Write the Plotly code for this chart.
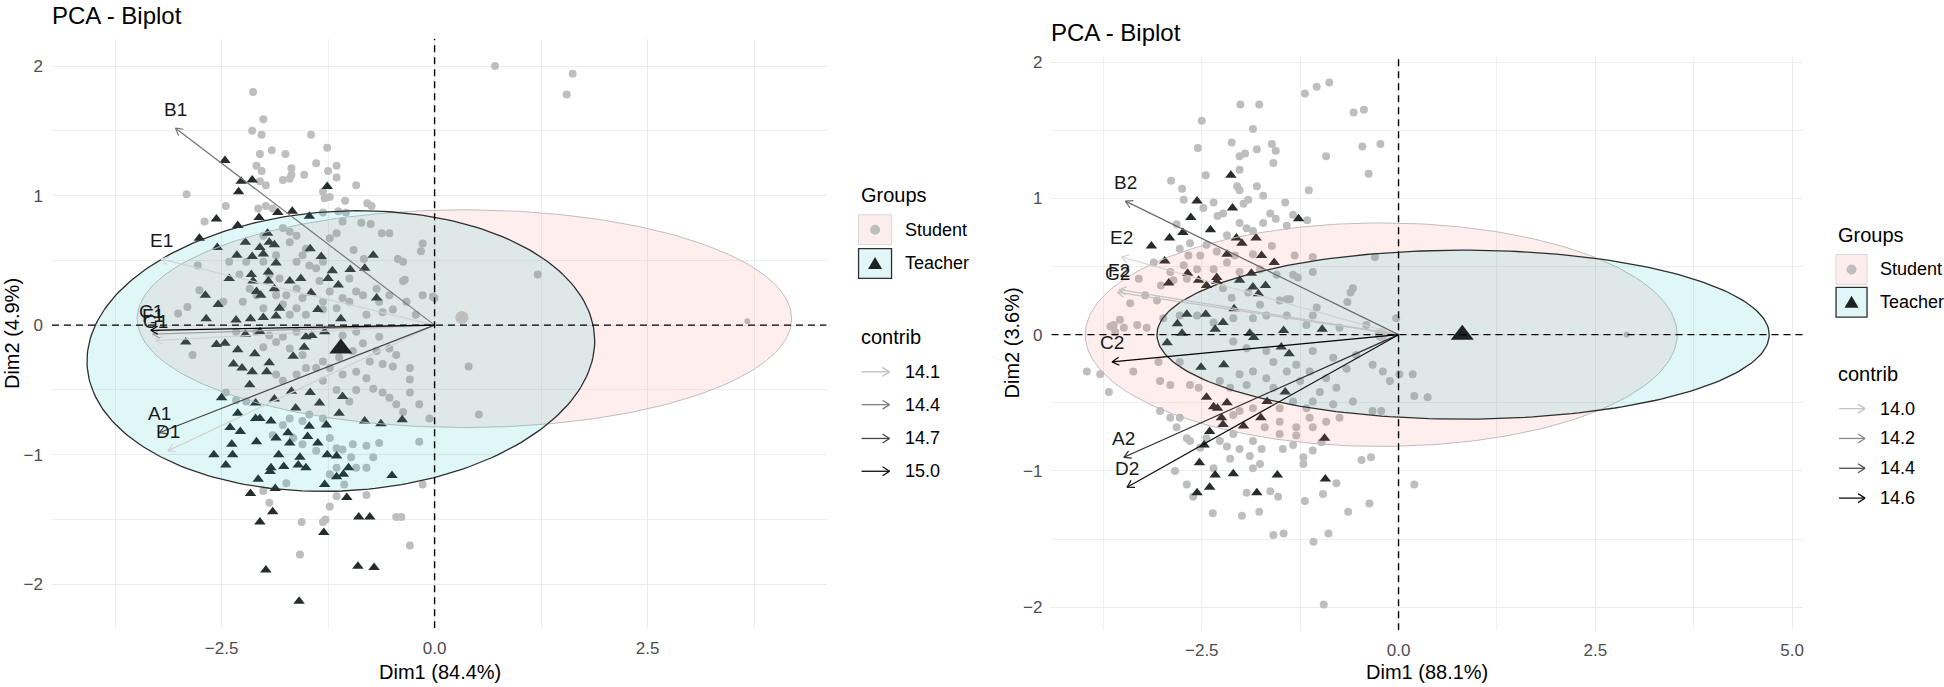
import numpy as np
import plotly.graph_objects as go

W, H = 1944, 687
FONT = "Liberation Sans, Arial, sans-serif"

# ---------------- LEFT BIPLOT DATA (Dim1 84.4 %, Dim2 4.9 %) ----------------
L_student = [
    (-2.13, 1.80), (-2.01, 1.59), (-2.14, 1.50), (-2.03, 1.47), (-1.45, 1.47), (-1.26, 1.37), (-1.91, 1.35),
    (-1.75, 1.32), (-2.05, 1.32), (-1.39, 1.25), (-1.15, 1.23), (-1.68, 1.21), (-1.25, 1.19), (-2.09, 1.23),
    (-2.03, 1.19), (-1.53, 1.16), (-1.68, 1.16), (-1.15, 1.14), (-1.78, 1.12), (-1.70, 1.13), (-1.98, 1.08),
    (-0.92, 1.08), (-2.05, 1.11), (-2.91, 1.01), (-1.31, 1.03), (-1.23, 0.99), (-1.29, 0.98), (-1.05, 0.96),
    (-0.79, 0.94), (-0.74, 0.92), (-2.45, 0.92), (-1.98, 0.92), (-2.07, 0.90), (-1.90, 0.90), (-1.31, 0.87),
    (-1.13, 0.88), (-1.04, 0.87), (-0.86, 0.79), (-0.75, 0.78), (-0.62, 0.71), (-0.53, 0.71), (-0.14, 0.63),
    (-0.16, 0.57), (-0.43, 0.51), (-0.37, 0.49), (-2.70, 0.80), (-1.08, 0.80), (-1.15, 0.71), (-1.23, 0.67),
    (-0.95, 0.58), (-0.83, 0.51), (-0.37, 0.34), (0.00, 0.21), (-0.65, 0.18), (-0.49, 0.12), (-2.78, 0.46),
    (-2.76, 0.27), (-2.90, 0.14), (-3.01, 0.09), (-2.48, 0.18), (-2.01, 0.69), (-1.70, 0.72), (-1.51, 0.59),
    (-1.62, 0.49), (-1.31, 0.49), (-1.94, 0.39), (-1.62, 0.28), (-1.55, 0.21), (-1.00, 0.36), (-0.92, 0.26),
    (-1.08, 0.21), (-0.80, 0.08), (-0.61, 0.10), (-1.51, 0.08), (-1.31, 0.12), (-1.74, 0.23), (-1.82, 0.36),
    (-2.29, 0.39), (-2.41, 0.49), (-2.17, 0.28), (-2.09, 0.23), (-2.25, 0.18), (-1.86, 0.54), (-1.70, 0.64),
    (-1.35, 0.34), (-1.78, 0.75), (-1.62, 0.69), (-1.55, 0.54), (-1.39, 0.44), (-1.23, 0.26), (-1.15, 0.13),
    (-1.00, 0.18), (-0.84, 0.23), (-0.68, 0.28), (-1.78, 0.16), (-1.70, 0.08), (-2.01, 0.13), (-1.62, 0.13),
    (-1.31, 0.18), (-1.47, 0.46), (-1.86, 0.23), (-2.21, 0.49), (-2.01, 0.49), (-0.53, 0.23), (-0.33, 0.18),
    (-0.22, 0.08), (-0.14, 0.23), (-0.35, 0.35), (-0.02, 0.22),
    (0.71, 2.00), (1.62, 1.94), (1.55, 1.78), (1.21, 0.39), (0.40, -0.32), (0.52, -0.69),
    (-2.84, -0.23), (-2.33, -0.58), (-2.21, -0.59), (-2.45, -0.52), (-2.01, -0.17), (-1.86, -0.13),
    (-1.70, -0.18), (-1.55, -0.23), (-1.31, -0.28), (-1.23, -0.33), (-1.08, -0.38), (-0.92, -0.36),
    (-0.76, -0.28), (-0.61, -0.30), (-0.49, -0.32), (-0.29, -0.33), (-0.68, -0.20), (-0.53, -0.18),
    (-0.45, -0.23), (-0.29, -0.42), (-0.80, -0.41), (-0.72, -0.49), (-0.61, -0.52), (-0.53, -0.56),
    (-0.45, -0.61), (-0.37, -0.67), (-0.18, -0.61), (-0.06, -0.72), (-0.18, -0.90), (-0.29, -0.52),
    (-1.31, -0.43), (-1.15, -0.50), (-0.92, -0.50), (-1.00, -0.59), (-1.31, -0.72), (-1.47, -0.69),
    (-1.55, -0.74), (-1.70, -0.72), (-1.78, -0.77), (-1.90, -0.85), (-1.66, -0.87), (-1.55, -0.92),
    (-1.39, -0.97), (-1.23, -0.87), (-1.15, -0.95), (-1.08, -0.96), (-0.96, -0.92), (-0.80, -0.93),
    (-0.65, -0.91), (-0.72, -1.02), (-0.80, -1.10), (-0.92, -1.10), (-0.98, -1.02), (-1.15, -1.10),
    (-1.23, -1.15), (-1.06, -1.23), (-1.74, -1.22), (-2.01, -1.28), (-1.94, -1.37), (-1.15, -1.32),
    (-1.23, -1.40), (-1.28, -1.50), (-1.31, -1.52), (-1.56, -1.52), (-0.80, -1.31), (-0.45, -1.48),
    (-0.39, -1.48), (-0.29, -1.70), (-1.58, -1.77), (-0.14, -1.23), (-1.78, -0.43), (-1.86, -0.38),
    (-1.62, -0.38), (-1.51, -0.33), (-1.39, -0.33), (-1.12, -0.25), (-0.96, -0.20), (-0.84, -0.14),
    (-0.65, -0.09), (-1.62, -0.05), (-1.78, -0.09), (-1.94, -0.08), (-2.09, -0.05), (-2.33, -0.05),
    (-1.08, -0.08), (-0.92, -0.05),
]
L_student_far = [(3.67, 0.03)]
L_teacher = [
    (-2.46, 1.27), (-2.27, 1.11), (-2.14, 1.12), (-2.30, 1.03), (-1.26, 1.07), (-1.84, 0.87), (-1.67, 0.88),
    (-2.06, 0.83), (-1.47, 0.84), (-2.56, 0.82), (-2.31, 0.77), (-2.76, 0.67), (-2.55, 0.60), (-2.22, 0.64),
    (-1.96, 0.71), (-1.94, 0.64), (-2.05, 0.60), (-1.88, 0.62), (-1.46, 0.59), (-1.33, 0.53), (-0.72, 0.54),
    (-0.82, 0.44), (-0.99, 0.43), (-1.20, 0.42), (-1.25, 0.36), (-1.13, 0.31), (-1.57, 0.36), (-1.70, 0.34),
    (-1.86, 0.48), (-1.95, 0.41), (-2.15, 0.39), (-2.13, 0.34), (-1.95, 0.34), (-1.88, 0.28), (-2.09, 0.26),
    (-2.04, 0.23), (-1.45, 0.25), (-0.68, 0.21), (-2.69, 0.23), (-2.54, 0.16), (-1.82, 0.13), (-1.37, 0.12),
    (-2.68, 0.05), (-2.33, 0.04), (-2.16, 0.05), (-2.01, 0.06), (-1.86, 0.07), (-1.10, 0.05), (-2.14, 0.53),
    (-2.32, 0.54), (-2.01, 0.55), (-2.41, 0.36),
    (-2.92, -0.13), (-2.46, -0.14), (-2.56, -0.15), (-2.22, -0.07), (-2.05, -0.05), (-1.51, -0.09),
    (-1.44, -0.08), (-1.29, -0.05), (-1.53, -0.17), (-2.31, -0.19), (-2.11, -0.22), (-1.94, -0.29),
    (-1.66, -0.24), (-2.36, -0.30), (-2.26, -0.33), (-2.14, -0.36), (-1.97, -0.36), (-2.17, -0.46),
    (-2.50, -0.56), (-2.10, -0.60), (-1.88, -0.57), (-1.68, -0.51), (-1.46, -0.52), (-1.35, -0.60),
    (-1.08, -0.55), (-2.31, -0.68), (-2.10, -0.72), (-2.05, -0.72), (-1.92, -0.74), (-1.63, -0.64),
    (-1.12, -0.68), (-0.82, -0.74), (-0.63, -0.76), (-0.38, -0.73), (-2.40, -0.79), (-2.28, -0.82),
    (-2.09, -0.90), (-1.72, -0.83), (-1.47, -0.78), (-1.27, -0.77), (-2.38, -0.92), (-2.59, -1.00),
    (-2.37, -1.00), (-1.83, -1.00), (-1.58, -1.02), (-1.37, -0.91), (-1.70, -0.91), (-1.15, -1.01),
    (-1.26, -1.00), (-2.45, -1.08), (-1.92, -1.10), (-1.77, -1.09), (-1.60, -1.08), (-1.51, -1.10),
    (-1.93, -1.13), (-1.15, -1.17), (-1.07, -1.15), (-1.01, -1.10), (-0.50, -1.16), (-2.07, -1.19),
    (-1.87, -1.26), (-1.29, -1.23), (-2.16, -1.30), (-1.03, -1.33), (-1.90, -1.44), (-2.05, -1.52),
    (-0.89, -1.48), (-0.76, -1.48), (-1.30, -1.60), (-1.98, -1.89), (-0.90, -1.86), (-0.71, -1.87),
    (-1.59, -2.13), (-1.49, -0.86), (-1.86, -0.87),
]
L_student_mean = (0.32, 0.06)
L_teacher_mean = (-1.10, -0.18)

L_vars = ["A1", "B1", "C1", "D1", "E1", "F1", "G1"]
L_var_x = [-3.23, -3.04, -3.33, -3.13, -3.21, -3.31, -3.27]
L_var_y = [-0.83, 1.52, -0.04, -0.97, 0.51, -0.07, -0.12]
L_contrib = [14.70, 14.45, 15.05, 14.00, 13.95, 14.25, 13.60]
L_contrib_lim = (14.0, 15.05)
L_breaks = [14.1, 14.4, 14.7, 15.0]

# ellipses: (centre x, centre y, semi-axis x, semi-axis y, tilt rad)
L_ell_student = (0.35, 0.05, 3.84, 0.84, 0.0)
L_ell_teacher = (-1.10, -0.20, 2.98, 1.08, 0.03)

# ---------------- RIGHT BIPLOT DATA (Dim1 88.1 %, Dim2 3.6 %) ----------------
R_student = [
    (-0.88, 1.85), (-1.04, 1.82), (-1.19, 1.77), (-2.01, 1.69), (-1.77, 1.69), (-2.50, 1.57), (-1.85, 1.51),
    (-0.57, 1.63), (-0.44, 1.65), (-2.12, 1.41), (-1.61, 1.40), (-1.56, 1.35), (-1.80, 1.36), (-2.55, 1.37),
    (-1.95, 1.33), (-2.02, 1.31), (-0.46, 1.38), (-0.23, 1.40), (-0.92, 1.31), (-1.59, 1.26), (-2.02, 1.21),
    (-0.38, 1.18), (-2.45, 1.17), (-2.89, 1.13), (-2.05, 1.09), (-1.80, 1.09), (-1.14, 1.06), (-2.75, 1.07),
    (-2.02, 1.06), (-1.72, 1.02), (-2.73, 0.99), (-2.35, 0.97), (-1.91, 0.99), (-1.97, 0.96), (-1.44, 0.97),
    (-2.48, 0.93), (-2.30, 0.87), (-2.23, 0.89), (-1.63, 0.89), (-1.56, 0.85), (-1.34, 0.88), (-1.16, 0.84),
    (-1.42, 0.80), (-2.82, 0.81), (-2.02, 0.82), (-1.93, 0.78), (-1.72, 0.82), (-1.85, 0.76), (-2.18, 0.73),
    (-2.65, 0.67), (-2.44, 0.66), (-2.31, 0.61), (-2.08, 0.58), (-1.85, 0.59), (-1.61, 0.65), (-1.32, 0.58),
    (-1.09, 0.57), (-0.30, 0.57), (-2.78, 0.63), (-2.67, 0.58), (-2.52, 0.58), (-3.11, 0.53), (-2.90, 0.46),
    (-2.73, 0.51), (-2.56, 0.48), (-2.86, 0.40), (-3.02, 0.36), (-3.30, 0.41), (-3.22, 0.29), (-3.07, 0.25),
    (-3.41, 0.23), (-2.69, 0.41), (-2.35, 0.48), (-2.18, 0.53), (-2.02, 0.46), (-1.76, 0.48), (-1.55, 0.44),
    (-1.34, 0.44), (-1.28, 0.42), (-1.09, 0.46), (-0.58, 0.34), (-0.61, 0.31), (-0.65, 0.24), (-1.04, 0.20),
    (-1.51, 0.25), (-1.42, 0.26), (-1.38, 0.26), (-1.76, 0.22), (-1.91, 0.31), (-2.12, 0.27), (-2.23, 0.34),
    (-1.68, 0.14), (-1.85, 0.12), (-2.10, 0.12), (-2.35, 0.09), (-2.56, 0.14), (-2.78, 0.14), (-2.99, 0.12),
    (-3.66, 0.06), (-3.54, 0.11), (-3.60, 0.02), (-3.20, 0.05), (-0.03, 0.12), (-0.41, 0.07), (-0.75, 0.05),
    (-1.17, 0.07), (-1.42, 0.14), (-1.09, 0.14),
    (-3.62, 0.07), (-3.49, 0.05), (-3.32, 0.07), (-3.96, -0.27), (-3.79, -0.29), (-3.68, -0.42), (-3.37, -0.27),
    (-3.03, -0.34), (-2.90, -0.37), (-3.05, -0.20), (-2.78, -0.20), (-2.65, -0.37), (-2.54, -0.39),
    (-3.03, -0.56), (-2.90, -0.61), (-2.78, -0.61), (-2.82, -0.68), (-2.69, -0.76), (-2.65, -0.78),
    (-2.52, -0.83), (-2.18, -0.82), (-2.02, -0.84), (-1.89, -0.89), (-1.74, -0.84), (-1.47, -0.84),
    (-1.34, -0.81), (-1.21, -0.90), (-1.21, -0.95), (-0.98, -0.79), (-2.14, -0.91), (-2.35, -0.98),
    (-1.85, -0.98), (-1.76, -0.95), (-2.84, -1.00), (-2.69, -1.10), (-2.61, -1.19), (-1.93, -1.16),
    (-1.63, -1.15), (-1.53, -1.19), (-1.19, -1.22), (-0.96, -1.17), (-0.79, -1.09), (-0.64, -1.30),
    (-0.37, -1.24), (-0.47, -0.92), (-0.35, -0.90), (0.20, -1.10), (-2.36, -1.31), (-1.99, -1.33),
    (-1.77, -1.30), (-1.59, -1.47), (-1.46, -1.46), (-1.08, -1.52), (-0.89, -1.46), (-0.95, -1.98),
    (-2.10, -0.59), (-2.02, -0.56), (-1.85, -0.54), (-1.70, -0.68), (-1.51, -0.64), (-1.30, -0.74),
    (-1.13, -0.61), (-1.09, -0.49), (-1.00, -0.42), (-1.25, -0.34), (-1.42, -0.27), (-1.59, -0.20),
    (-1.68, -0.12), (-1.93, -0.10), (-2.10, -0.05), (-1.09, -0.12), (-0.83, -0.17), (-0.66, -0.25),
    (-0.54, -0.15), (-0.33, -0.22), (-0.20, -0.27), (0.01, -0.29), (0.18, -0.29), (0.20, -0.45),
    (0.37, -0.46), (-0.33, -0.56), (-0.22, -0.56), (-0.11, -0.34), (-0.79, -0.39), (-0.92, -0.32),
    (-1.13, -0.27), (-1.30, -0.22), (-1.68, -0.32), (-1.85, -0.27), (-2.02, -0.29), (-2.27, -0.34),
    (-2.14, -0.39), (-1.93, -0.37), (-1.59, -0.39), (-1.51, -0.54), (-1.34, -0.49), (-1.17, -0.54),
    (-0.83, -0.51), (-0.58, -0.49), (-0.75, -0.61), (-0.92, -0.64), (-1.09, -0.68), (-1.30, -0.68),
    (-1.51, -0.73), (-2.10, -0.73), (-2.27, -0.78), (-2.44, -0.76), (-1.85, -0.78), (-1.09, -0.85),
]
R_student_far = [(2.90, 0.00)]
R_teacher = [
    (-2.13, 1.17), (-2.56, 0.98), (-2.11, 0.93), (-2.64, 0.86), (-1.27, 0.85), (-2.39, 0.77), (-2.74, 0.75),
    (-2.91, 0.71), (-3.14, 0.65), (-2.06, 0.71), (-1.99, 0.67), (-1.81, 0.71), (-2.18, 0.59), (-1.74, 0.58),
    (-1.58, 0.53), (-2.97, 0.54), (-2.68, 0.45), (-2.92, 0.38), (-2.54, 0.40), (-2.44, 0.36), (-2.31, 0.39),
    (-2.31, 0.42), (-2.02, 0.40), (-1.87, 0.45), (-1.85, 0.35), (-1.69, 0.36), (-1.78, 0.30), (-2.09, 0.19),
    (-2.69, 0.15), (-2.45, 0.15), (-2.81, 0.08), (-2.23, 0.09), (-2.33, 0.04), (-1.46, 0.03), (-0.97, 0.04),
    (-1.89, 0.01), (-2.75, 0.01),
    (-2.94, -0.06), (-1.84, -0.02), (-1.49, -0.09), (-1.39, -0.14), (-2.22, -0.22), (-2.51, -0.24),
    (-1.44, -0.42), (-2.44, -0.46), (-2.35, -0.53), (-2.30, -0.54), (-2.18, -0.50), (-1.67, -0.49),
    (-1.75, -0.61), (-2.25, -0.61), (-2.23, -0.66), (-1.97, -0.67), (-2.40, -0.71), (-0.94, -0.76),
    (-2.47, -0.81), (-2.53, -0.94), (-2.33, -1.03), (-2.10, -1.02), (-1.54, -1.03), (-0.93, -1.06),
    (-2.40, -1.12), (-2.56, -1.16), (-1.80, -1.16),
]
R_student_mean = (-0.22, 0.00)
R_teacher_mean = (0.81, 0.00)

R_vars = ["A2", "B2", "C2", "D2", "E2", "F2", "G2"]
R_var_x = [-3.49, -3.47, -3.64, -3.45, -3.52, -3.55, -3.57]
R_var_y = [-0.90, 0.98, -0.20, -1.12, 0.57, 0.33, 0.31]
R_contrib = [14.50, 14.30, 14.65, 14.60, 13.95, 14.00, 14.00]
R_contrib_lim = (13.95, 14.65)
R_breaks = [14.0, 14.2, 14.4, 14.6]

R_ell_student = (-0.22, 0.00, 3.76, 0.82, 0.0)
R_ell_teacher = (0.82, 0.00, 3.89, 0.62, 0.0)

# ---------------- geometry / styling ----------------
L_BOX = (52, 35, 827, 628)      # left, top, right, bottom in px
R_BOX = (1052, 53, 1804, 630)
L_XR, L_YR = [-4.49, 4.60], [-2.34, 2.21]
R_XR, R_YR = [-4.41, 5.14], [-2.17, 2.04]

STUDENT_COL = "#BEBEBE"
TEACHER_COL = "#262B2B"
STUDENT_FILL = "rgba(248,118,109,0.12)"
TEACHER_FILL = "rgba(0,191,196,0.12)"
HEAD = 8.0


def pxx(v):
    return v / W


def pyy(v):
    return 1 - v / H


def grey(c, lim):
    t = min(max((c - lim[0]) / (lim[1] - lim[0]), 0.0), 1.0)
    v = int(round(210 * (1 - t)))
    return f"rgb({v},{v},{v})"


def ellipse(p, n=240):
    cx, cy, a, b, th = p
    t = np.linspace(0, 2 * np.pi, n)
    ex, ey = a * np.cos(t), b * np.sin(t)
    return cx + ex * np.cos(th) - ey * np.sin(th), cy + ex * np.sin(th) + ey * np.cos(th)


fig = go.Figure()
annotations = []
shapes = []


def panel(xa, ya, box, xr, yr, stu, stu_far, tea, stu_mean, tea_mean, e_stu, e_tea,
          vnames, vx, vy, contrib, lim):
    fig.add_trace(go.Scatter(x=[p[0] for p in stu], y=[p[1] for p in stu], mode="markers",
                             marker=dict(symbol="circle", size=8, color=STUDENT_COL),
                             xaxis=xa, yaxis=ya, showlegend=False, hoverinfo="skip"))
    fig.add_trace(go.Scatter(x=[p[0] for p in stu_far], y=[p[1] for p in stu_far], mode="markers",
                             marker=dict(symbol="circle", size=6, color=STUDENT_COL),
                             xaxis=xa, yaxis=ya, showlegend=False, hoverinfo="skip"))
    fig.add_trace(go.Scatter(x=[p[0] for p in tea], y=[p[1] for p in tea], mode="markers",
                             marker=dict(symbol="triangle-up", size=10, color=TEACHER_COL),
                             xaxis=xa, yaxis=ya, showlegend=False, hoverinfo="skip"))
    for prm, fillc, linec, lw in ((e_stu, STUDENT_FILL, "#BEBEBE", 1.0),
                                  (e_tea, TEACHER_FILL, "#2E2E2E", 1.3)):
        ex, ey = ellipse(prm)
        fig.add_trace(go.Scatter(x=ex, y=ey, mode="lines", fill="toself", fillcolor=fillc,
                                 line=dict(color=linec, width=lw), xaxis=xa, yaxis=ya,
                                 showlegend=False, hoverinfo="skip"))
    fig.add_trace(go.Scatter(x=[stu_mean[0]], y=[stu_mean[1]], mode="markers",
                             marker=dict(symbol="circle", size=13, color=STUDENT_COL),
                             xaxis=xa, yaxis=ya, showlegend=False, hoverinfo="skip"))
    fig.add_trace(go.Scatter(x=[tea_mean[0]], y=[tea_mean[1]], mode="markers",
                             marker=dict(symbol="triangle-up", size=20, color="#1E2222"),
                             xaxis=xa, yaxis=ya, showlegend=False, hoverinfo="skip"))
    sx = (box[2] - box[0]) / (xr[1] - xr[0])
    sy = (box[3] - box[1]) / (yr[1] - yr[0])
    order = np.argsort(contrib)
    for i in order:
        x, y, c = vx[i], vy[i], contrib[i]
        col = grey(c, lim)
        dx, dy = x * sx, y * sy
        n = np.hypot(dx, dy)
        ux, uy = -dx / n, -dy / n
        hx, hy = [], []
        for ang in (np.radians(30), -np.radians(30)):
            rx = ux * np.cos(ang) - uy * np.sin(ang)
            ry = ux * np.sin(ang) + uy * np.cos(ang)
            hx.append(x + rx * HEAD / sx)
            hy.append(y + ry * HEAD / sy)
        fig.add_trace(go.Scatter(x=[0, x, None, hx[0], x, hx[1]], y=[0, y, None, hy[0], y, hy[1]],
                                 mode="lines", line=dict(color=col, width=1.2),
                                 xaxis=xa, yaxis=ya, showlegend=False, hoverinfo="skip"))
    for name, x, y in zip(vnames, vx, vy):
        annotations.append(dict(x=x, y=y, xref=xa, yref=ya, text=name, showarrow=False,
                                yshift=19, font=dict(family=FONT, size=19, color="#1A1A1A")))
    for (x0, x1, y0, y1) in ((xr[0], xr[1], 0, 0), (0, 0, yr[0], yr[1])):
        shapes.append(dict(type="line", xref=xa, yref=ya, x0=x0, x1=x1, y0=y0, y1=y1, layer="above",
                           line=dict(color="black", width=1.4, dash="7px,5px")))


panel("x", "y", L_BOX, L_XR, L_YR, L_student, L_student_far, L_teacher, L_student_mean, L_teacher_mean,
      L_ell_student, L_ell_teacher, L_vars, L_var_x, L_var_y, L_contrib, L_contrib_lim)
panel("x2", "y2", R_BOX, R_XR, R_YR, R_student, R_student_far, R_teacher, R_student_mean, R_teacher_mean,
      R_ell_student, R_ell_teacher, R_vars, R_var_x, R_var_y, R_contrib, R_contrib_lim)


def text(xp, yp, s, size, color="black", anchor="left", angle=0):
    annotations.append(dict(x=pxx(xp), y=pyy(yp), xref="paper", yref="paper", text=s, showarrow=False,
                            xanchor=anchor, yanchor="middle", textangle=angle,
                            font=dict(family=FONT, size=size, color=color)))


text(50, 12, "PCA - Biplot", 24)
text(1050, 29, "PCA - Biplot", 24)
text(440, 672, "Dim1 (84.4%)", 20, anchor="center")
text(1428, 672, "Dim1 (88.1%)", 20, anchor="center")
text(12, 331, "Dim2 (4.9%)", 20, anchor="center", angle=-90)
text(1013, 341, "Dim2 (3.6%)", 20, anchor="center", angle=-90)


def legend(pos, breaks, lim):
    tx, k0, k1, lx = pos["title_x"], pos["key_x0"], pos["key_x1"], pos["label_x"]
    text(tx, pos["groups_y"], "Groups", 20)
    sy = pos["student_y"]
    shapes.append(dict(type="rect", xref="paper", yref="paper", x0=pxx(k0), x1=pxx(k1),
                       y0=pyy(sy + 15), y1=pyy(sy - 15), fillcolor="#FDEEED",
                       line=dict(color="#D8D8D8", width=1)))
    kc = (k0 + k1) / 2
    shapes.append(dict(type="circle", xref="paper", yref="paper", x0=pxx(kc - 5), x1=pxx(kc + 5),
                       y0=pyy(sy + 5), y1=pyy(sy - 5), fillcolor=STUDENT_COL, line=dict(width=0)))
    text(lx, sy, "Student", 18)
    ty = pos["teacher_y"]
    shapes.append(dict(type="rect", xref="paper", yref="paper", x0=pxx(k0), x1=pxx(k1),
                       y0=pyy(ty + 15), y1=pyy(ty - 15), fillcolor="#E0F6F7",
                       line=dict(color="#2E2E2E", width=1.3)))
    path = (f"M {pxx(kc - 7)} {pyy(ty + 5.5)} L {pxx(kc + 7)} {pyy(ty + 5.5)} "
            f"L {pxx(kc)} {pyy(ty - 6.5)} Z")
    shapes.append(dict(type="path", xref="paper", yref="paper", path=path,
                       fillcolor="#1E2222", line=dict(width=0)))
    text(lx, ty, "Teacher", 18)
    text(tx, pos["contrib_y"], "contrib", 20)
    for b, yy in zip(breaks, pos["arrow_ys"]):
        col = grey(b, lim)
        a0, a1 = k0 + 3, k1 - 2
        for (x0, y0, x1, y1) in ((a0, yy, a1, yy), (a1 - 7, yy - 4.5, a1, yy), (a1 - 7, yy + 4.5, a1, yy)):
            shapes.append(dict(type="line", xref="paper", yref="paper", x0=pxx(x0), y0=pyy(y0),
                               x1=pxx(x1), y1=pyy(y1), line=dict(color=col, width=1.3)))
        text(lx, yy, f"{b:.1f}", 18)


legend(dict(title_x=859, key_x0=859, key_x1=892, label_x=903, groups_y=192, student_y=227,
            teacher_y=261, contrib_y=335, arrow_ys=[370, 403, 437, 470]), L_breaks, L_contrib_lim)
legend(dict(title_x=1837, key_x0=1837, key_x1=1868, label_x=1879, groups_y=232, student_y=267,
            teacher_y=300, contrib_y=372, arrow_ys=[407, 437, 467, 497]), R_breaks, R_contrib_lim)


def xaxis(box, xr, anchor):
    return dict(domain=[pxx(box[0]), pxx(box[2])], range=xr, anchor=anchor, tick0=0, dtick=2.5,
                tickformat=".1f", showgrid=True, gridcolor="#EBEBEB", gridwidth=1.1, zeroline=False,
                showline=False, ticks="", ticklabelstandoff=8,
                tickfont=dict(family=FONT, size=17, color="#4D4D4D"),
                minor=dict(dtick=1.25, tick0=0, showgrid=True, gridcolor="#EFEFEF", gridwidth=0.9),
                fixedrange=True)


def yaxis(box, yr, anchor):
    return dict(domain=[pyy(box[3]), pyy(box[1])], range=yr, anchor=anchor, tick0=0, dtick=1,
                tickformat="d", showgrid=True, gridcolor="#EBEBEB", gridwidth=1.1, zeroline=False,
                showline=False, ticks="", ticklabelstandoff=8,
                tickfont=dict(family=FONT, size=17, color="#4D4D4D"),
                minor=dict(dtick=0.5, tick0=0, showgrid=True, gridcolor="#EFEFEF", gridwidth=0.9),
                fixedrange=True)


fig.update_layout(
    width=W, height=H, autosize=False,
    margin=dict(l=0, r=0, t=0, b=0),
    paper_bgcolor="white", plot_bgcolor="white",
    showlegend=False,
    xaxis=xaxis(L_BOX, L_XR, "y"), yaxis=yaxis(L_BOX, L_YR, "x"),
    xaxis2=xaxis(R_BOX, R_XR, "y2"), yaxis2=yaxis(R_BOX, R_YR, "x2"),
    annotations=annotations, shapes=shapes,
    font=dict(family=FONT),
)

fig.write_html("out.html", config={"displayModeBar": False},
               post_script="document.body.style.margin='0px';document.body.style.overflow='hidden';")
